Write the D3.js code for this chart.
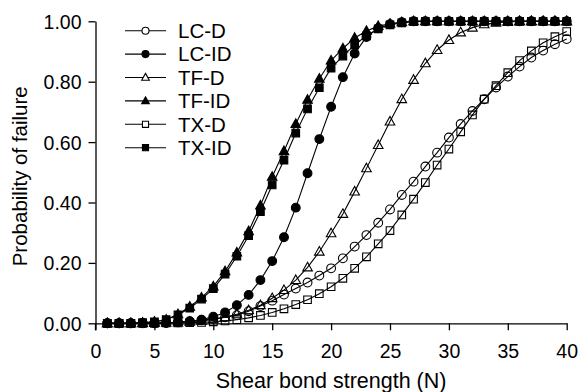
<!DOCTYPE html>
<html>
<head>
<meta charset="utf-8">
<script src="https://cdn.jsdelivr.net/npm/d3@7"></script>
<style>
    body { margin: 0; background: #fff; }
    svg text { font-family: "Liberation Sans", Arial, sans-serif; fill: #000; }
</style>
</head>
<body>
<svg id="chart" width="582" height="392"></svg>
<script>

// shear bond strength (N)
var strength = [1, 2, 3, 4, 5, 6, 7, 8, 9, 10,
    11, 12, 13, 14, 15, 16, 17, 18, 19, 20,
    21, 22, 23, 24, 25, 26, 27, 28, 29, 30,
    31, 32, 33, 34, 35, 36, 37, 38, 39, 40];

var lcD = [0, 0, 0, 0.001, 0.001, 0.002, 0.004, 0.007, 0.010, 0.015,
    0.020, 0.027, 0.040, 0.057, 0.075, 0.095, 0.115, 0.135, 0.158, 0.182,
    0.215, 0.254, 0.292, 0.333, 0.377, 0.425, 0.469, 0.519, 0.565, 0.615,
    0.660, 0.703, 0.742, 0.781, 0.817, 0.850, 0.880, 0.903, 0.924, 0.941];

var lcID = [0, 0, 0, 0, 0, 0.001, 0.003, 0.006, 0.012, 0.022,
    0.036, 0.060, 0.094, 0.143, 0.206, 0.285, 0.383, 0.497, 0.610, 0.717,
    0.815, 0.893, 0.948, 0.977, 0.990, 0.997, 1, 1, 1, 1,
    1, 1, 1, 1, 1, 1, 1, 1, 1, 1];

var tfD = [0, 0, 0, 0, 0.001, 0.002, 0.003, 0.005, 0.008, 0.013,
    0.020, 0.030, 0.043, 0.060, 0.083, 0.110, 0.143, 0.185, 0.237, 0.298,
    0.362, 0.436, 0.513, 0.590, 0.668, 0.742, 0.806, 0.861, 0.905, 0.938,
    0.963, 0.979, 0.990, 0.995, 0.998, 1, 1, 1, 1, 1];

var tfID = [0, 0, 0, 0.002, 0.005, 0.012, 0.030, 0.055, 0.085, 0.122,
    0.172, 0.234, 0.305, 0.390, 0.485, 0.570, 0.660, 0.740, 0.810, 0.870,
    0.910, 0.945, 0.968, 0.984, 0.992, 0.997, 1, 1, 1, 1,
    1, 1, 1, 1, 1, 1, 1, 1, 1, 1];

var txD = [0, 0, 0, 0, 0, 0.001, 0.001, 0.002, 0.003, 0.005,
    0.008, 0.012, 0.018, 0.026, 0.036, 0.048, 0.062, 0.078, 0.098, 0.121,
    0.149, 0.182, 0.220, 0.263, 0.307, 0.359, 0.411, 0.466, 0.524, 0.577,
    0.634, 0.690, 0.742, 0.787, 0.830, 0.870, 0.902, 0.929, 0.949, 0.966];

var txID = [0, 0, 0, 0.002, 0.005, 0.012, 0.028, 0.050, 0.080, 0.115,
    0.163, 0.222, 0.290, 0.370, 0.458, 0.540, 0.630, 0.710, 0.780, 0.845,
    0.885, 0.922, 0.952, 0.975, 0.988, 0.995, 0.999, 1, 1, 1,
    1, 1, 1, 1, 1, 1, 1, 1, 1, 1];

var seriesNames = ['LC-D', 'LC-ID', 'TF-D', 'TF-ID', 'TX-D', 'TX-ID'];
var xTicks = [0, 5, 10, 15, 20, 25, 30, 35, 40];
var yTicks = [0, 0.2, 0.4, 0.6, 0.8, 1.0];

var series = [
    { name: seriesNames[0], values: lcD,  shape: 'circle',   filled: false },
    { name: seriesNames[1], values: lcID, shape: 'circle',   filled: true },
    { name: seriesNames[2], values: tfD,  shape: 'triangle', filled: false },
    { name: seriesNames[3], values: tfID, shape: 'triangle', filled: true },
    { name: seriesNames[4], values: txD,  shape: 'square',   filled: false },
    { name: seriesNames[5], values: txID, shape: 'square',   filled: true }
];

var svg = d3.select('#chart');

var x = d3.scaleLinear().domain([0, 40]).range([95.5, 566.7]);
var y = d3.scaleLinear().domain([0, 1]).range([323.3, 21.3]);

// marker path, sized for plot or legend
var markerPath = function(shape, s) {
    if (shape == 'circle') {
        return d3.symbol().type(d3.symbolCircle).size(Math.PI * 4.4 * 4.4 * s * s)();
    }
    if (shape == 'square') {
        return d3.symbol().type(d3.symbolSquare).size(7.6 * 7.6 * s * s)();
    }
    // triangle, flat bottom
    var h = 8.6 * s, w = 9.6 * s;
    return 'M0,' + (-h * 0.6) + 'L' + (w / 2) + ',' + (h * 0.4) + 'L' + (-w / 2) + ',' + (h * 0.4) + 'Z';
};

// axes
var xAxis = d3.axisBottom(x).tickValues(xTicks).tickSize(7).tickSizeOuter(0)
    .tickFormat(d3.format('d'));
var yAxis = d3.axisLeft(y).tickValues(yTicks).tickSize(7).tickSizeOuter(0)
    .tickFormat(d3.format('.2f'));

var gx = svg.append('g')
    .attr('transform', 'translate(0,' + y(0) + ')')
    .call(xAxis);
var gy = svg.append('g')
    .attr('transform', 'translate(' + x(0) + ',0)')
    .call(yAxis);

[gx, gy].forEach(function(g) {
    g.select('.domain').attr('stroke', '#000').attr('stroke-width', 1.3);
    g.selectAll('.tick line').attr('stroke', '#000').attr('stroke-width', 1.3);
    g.selectAll('.tick text')
        .attr('font-family', '"Liberation Sans", Arial, sans-serif')
        .attr('font-size', 19.5)
        .attr('fill', '#000');
});
gx.selectAll('.tick text').attr('dy', null).attr('y', 35);
gy.selectAll('.tick text').attr('x', -14).attr('dy', '0.36em');

// y axis reaches below the x axis by a tick length
gy.append('line')
    .attr('x1', 0).attr('x2', 0)
    .attr('y1', y(0)).attr('y2', y(0) + 7)
    .attr('stroke', '#000').attr('stroke-width', 1.3);

// axis titles
svg.append('text')
    .attr('x', (x(0) + x(40)) / 2)
    .attr('y', 388)
    .attr('text-anchor', 'middle')
    .attr('font-size', 21.5)
    .text('Shear bond strength (N)');

svg.append('text')
    .attr('transform', 'translate(27,' + ((y(0) + y(1)) / 2 + 4) + ') rotate(-90)')
    .attr('text-anchor', 'middle')
    .attr('font-size', 20.5)
    .text('Probability of failure');

// lines and markers
var line = d3.line()
    .x(function(d, i) { return x(strength[i]); })
    .y(function(d) { return y(d); });

var plot = svg.append('g');

series.forEach(function(s) {
    var g = plot.append('g');
    g.selectAll('.point')
        .data(s.values)
        .enter()
            .append('path')
            .attr('class', 'point')
            .attr('transform', function(d, i) {
                return 'translate(' + x(strength[i]) + ',' + y(d) + ')';
            })
            .attr('d', markerPath(s.shape, 1))
            .attr('fill', s.filled ? '#000' : 'none')
            .attr('stroke', '#000')
            .attr('stroke-width', 1.1);
    g.append('path')
        .datum(s.values)
        .attr('d', line)
        .attr('fill', 'none')
        .attr('stroke', '#000')
        .attr('stroke-width', 1.1);
});

// legend
var legend = svg.append('g').attr('transform', 'translate(125,30.7)');
var rows = legend.selectAll('.row')
    .data(series)
    .enter()
        .append('g')
        .attr('class', 'row')
        .attr('transform', function(d, i) { return 'translate(0,' + (i * 23.4) + ')'; });

rows.append('line')
    .attr('x1', 0).attr('x2', 41)
    .attr('y1', 0).attr('y2', 0)
    .attr('stroke', '#000')
    .attr('stroke-width', 1.1);

rows.append('path')
    .attr('transform', 'translate(20.5,0)')
    .attr('d', function(d) { return markerPath(d.shape, 0.8); })
    .attr('fill', function(d) { return d.filled ? '#000' : '#fff'; })
    .attr('stroke', '#000')
    .attr('stroke-width', 1.1);

rows.append('text')
    .attr('x', 53)
    .attr('dy', '0.36em')
    .attr('font-size', 20.5)
    .text(function(d) { return d.name; });

</script>
</body>
</html>
